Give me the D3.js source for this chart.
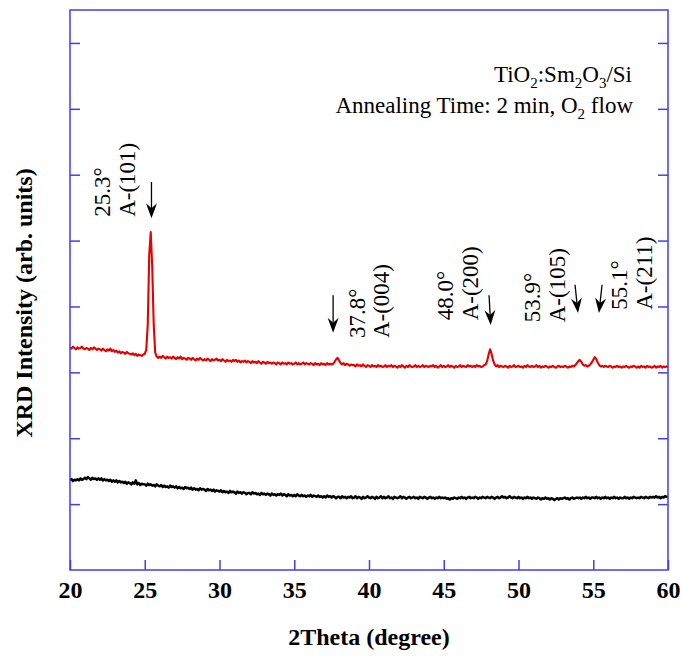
<!DOCTYPE html>
<html>
<head>
<meta charset="utf-8">
<script src="https://cdn.jsdelivr.net/npm/d3@7"></script>
<style>
  html, body { margin: 0; padding: 0; background: #fff; }
  svg { display: block; }
  text { font-family: "Liberation Serif", "Times New Roman", serif; }
</style>
</head>
<body>
<svg id="chart" width="681" height="656"></svg>
<script>
// XRD scan: 2θ from 20° to 60° in 0.1° steps
const scanStart = 20;
const scanStep = 0.1;

// TiO2:Sm2O3/Si, annealed 2 min in O2 flow (offset trace)
const annealedCounts = [
  3.38, 3.36, 3.39, 3.37, 3.35, 3.38, 3.36, 3.37, 3.39, 3.36,
  3.35, 3.37, 3.36, 3.34, 3.37, 3.35, 3.38, 3.36, 3.34, 3.36,
  3.35, 3.33, 3.36, 3.34, 3.32, 3.35, 3.33, 3.36, 3.32, 3.34,
  3.31, 3.33, 3.30, 3.32, 3.29, 3.31, 3.30, 3.28, 3.31, 3.29,
  3.28, 3.27, 3.29, 3.26, 3.28, 3.25, 3.27, 3.26, 3.25, 3.27,
  3.28, 3.34, 3.72, 4.78, 5.13, 4.60, 3.72, 3.30, 3.24, 3.22,
  3.24, 3.22, 3.25, 3.23, 3.21, 3.24, 3.22, 3.23, 3.21, 3.24,
  3.22, 3.20, 3.23, 3.21, 3.24, 3.20, 3.22, 3.21, 3.19, 3.22,
  3.21, 3.19, 3.22, 3.20, 3.18, 3.21, 3.19, 3.22, 3.20, 3.18,
  3.20, 3.18, 3.21, 3.19, 3.17, 3.20, 3.18, 3.19, 3.21, 3.18,
  3.19, 3.17, 3.20, 3.18, 3.16, 3.19, 3.17, 3.18, 3.16, 3.19,
  3.17, 3.19, 3.16, 3.18, 3.15, 3.17, 3.16, 3.18, 3.15, 3.17,
  3.16, 3.14, 3.17, 3.15, 3.16, 3.14, 3.17, 3.15, 3.13, 3.16,
  3.15, 3.13, 3.16, 3.14, 3.15, 3.13, 3.15, 3.14, 3.12, 3.15,
  3.14, 3.12, 3.15, 3.13, 3.14, 3.12, 3.15, 3.13, 3.14, 3.12,
  3.13, 3.15, 3.12, 3.14, 3.12, 3.13, 3.15, 3.12, 3.14, 3.13,
  3.12, 3.14, 3.13, 3.11, 3.14, 3.12, 3.13, 3.11, 3.14, 3.12,
  3.13, 3.11, 3.14, 3.12, 3.13, 3.12, 3.13, 3.16, 3.20, 3.22,
  3.18, 3.14, 3.12, 3.14, 3.11, 3.13, 3.12, 3.10, 3.12, 3.11,
  3.11, 3.09, 3.12, 3.10, 3.11, 3.09, 3.12, 3.10, 3.08, 3.11,
  3.10, 3.08, 3.11, 3.09, 3.10, 3.08, 3.11, 3.09, 3.10, 3.08,
  3.09, 3.11, 3.08, 3.10, 3.09, 3.11, 3.08, 3.10, 3.09, 3.07,
  3.10, 3.08, 3.11, 3.09, 3.07, 3.10, 3.08, 3.11, 3.09, 3.08,
  3.09, 3.11, 3.08, 3.10, 3.08, 3.09, 3.11, 3.08, 3.10, 3.09,
  3.08, 3.10, 3.09, 3.11, 3.08, 3.10, 3.07, 3.09, 3.11, 3.08,
  3.10, 3.08, 3.09, 3.11, 3.08, 3.10, 3.09, 3.07, 3.10, 3.08,
  3.09, 3.11, 3.08, 3.10, 3.09, 3.08, 3.11, 3.09, 3.10, 3.08,
  3.10, 3.08, 3.11, 3.09, 3.10, 3.08, 3.09, 3.11, 3.12, 3.17,
  3.27, 3.35, 3.28, 3.18, 3.12, 3.09, 3.11, 3.08, 3.10, 3.09,
  3.08, 3.10, 3.09, 3.07, 3.10, 3.08, 3.09, 3.11, 3.08, 3.09,
  3.10, 3.08, 3.09, 3.07, 3.10, 3.08, 3.11, 3.09, 3.08, 3.10,
  3.08, 3.09, 3.11, 3.08, 3.10, 3.07, 3.09, 3.08, 3.10, 3.09,
  3.07, 3.09, 3.08, 3.10, 3.08, 3.07, 3.09, 3.10, 3.08, 3.09,
  3.08, 3.10, 3.09, 3.07, 3.09, 3.08, 3.10, 3.09, 3.11, 3.14,
  3.17, 3.19, 3.16, 3.12, 3.10, 3.11, 3.09, 3.10, 3.12, 3.15,
  3.19, 3.23, 3.20, 3.15, 3.11, 3.09, 3.10, 3.08, 3.10, 3.09,
  3.08, 3.10, 3.09, 3.07, 3.09, 3.08, 3.10, 3.08, 3.09, 3.07,
  3.09, 3.08, 3.10, 3.08, 3.07, 3.09, 3.08, 3.10, 3.09, 3.07,
  3.09, 3.07, 3.10, 3.08, 3.09, 3.07, 3.10, 3.08, 3.09, 3.07,
  3.08, 3.10, 3.07, 3.09, 3.08, 3.10, 3.07, 3.09, 3.08, 3.09,
  3.08
];

// Reference trace (lower curve)
const referenceCounts = [
  1.36, 1.38, 1.35, 1.37, 1.36, 1.38, 1.36, 1.39, 1.37, 1.38,
  1.40, 1.38, 1.41, 1.39, 1.37, 1.40, 1.38, 1.39, 1.37, 1.39,
  1.37, 1.39, 1.36, 1.38, 1.36, 1.37, 1.35, 1.37, 1.34, 1.36,
  1.34, 1.36, 1.33, 1.35, 1.33, 1.34, 1.32, 1.34, 1.31, 1.33,
  1.32, 1.30, 1.33, 1.31, 1.36, 1.30, 1.32, 1.29, 1.31, 1.30,
  1.30, 1.28, 1.31, 1.29, 1.30, 1.28, 1.29, 1.27, 1.30, 1.28,
  1.27, 1.29, 1.26, 1.28, 1.26, 1.27, 1.25, 1.28, 1.26, 1.27,
  1.25, 1.27, 1.24, 1.26, 1.24, 1.25, 1.23, 1.26, 1.24, 1.25,
  1.23, 1.25, 1.22, 1.24, 1.22, 1.23, 1.21, 1.24, 1.22, 1.23,
  1.22, 1.20, 1.23, 1.21, 1.22, 1.20, 1.22, 1.19, 1.21, 1.20,
  1.19, 1.21, 1.18, 1.20, 1.18, 1.19, 1.17, 1.20, 1.18, 1.19,
  1.18, 1.16, 1.19, 1.17, 1.18, 1.16, 1.18, 1.17, 1.15, 1.17,
  1.17, 1.15, 1.18, 1.16, 1.17, 1.15, 1.16, 1.14, 1.17, 1.15,
  1.16, 1.14, 1.16, 1.15, 1.13, 1.16, 1.14, 1.15, 1.13, 1.15,
  1.14, 1.16, 1.13, 1.15, 1.14, 1.12, 1.15, 1.13, 1.14, 1.12,
  1.14, 1.12, 1.15, 1.13, 1.12, 1.14, 1.12, 1.13, 1.11, 1.13,
  1.12, 1.14, 1.11, 1.13, 1.12, 1.11, 1.13, 1.11, 1.12, 1.10,
  1.12, 1.10, 1.13, 1.11, 1.12, 1.10, 1.12, 1.11, 1.09, 1.11,
  1.11, 1.09, 1.12, 1.10, 1.11, 1.09, 1.11, 1.10, 1.12, 1.09,
  1.10, 1.12, 1.09, 1.11, 1.10, 1.08, 1.11, 1.09, 1.10, 1.12,
  1.10, 1.09, 1.11, 1.10, 1.08, 1.11, 1.09, 1.10, 1.12, 1.09,
  1.11, 1.09, 1.10, 1.12, 1.09, 1.10, 1.08, 1.11, 1.10, 1.09,
  1.10, 1.12, 1.09, 1.11, 1.10, 1.08, 1.10, 1.11, 1.09, 1.10,
  1.11, 1.09, 1.10, 1.08, 1.11, 1.10, 1.09, 1.11, 1.10, 1.08,
  1.10, 1.11, 1.09, 1.10, 1.08, 1.10, 1.09, 1.11, 1.09, 1.10,
  1.09, 1.10, 1.08, 1.09, 1.07, 1.09, 1.08, 1.10, 1.09, 1.08,
  1.10, 1.09, 1.11, 1.09, 1.10, 1.08, 1.10, 1.11, 1.09, 1.10,
  1.09, 1.11, 1.10, 1.08, 1.10, 1.09, 1.11, 1.10, 1.09, 1.11,
  1.10, 1.09, 1.11, 1.10, 1.08, 1.10, 1.11, 1.09, 1.10, 1.12,
  1.10, 1.11, 1.09, 1.10, 1.12, 1.10, 1.09, 1.11, 1.10, 1.09,
  1.11, 1.09, 1.10, 1.08, 1.10, 1.09, 1.11, 1.09, 1.10, 1.08,
  1.10, 1.09, 1.08, 1.10, 1.09, 1.07, 1.09, 1.08, 1.10, 1.08,
  1.09, 1.07, 1.09, 1.08, 1.06, 1.08, 1.09, 1.07, 1.09, 1.08,
  1.09, 1.10, 1.08, 1.09, 1.07, 1.09, 1.10, 1.08, 1.09, 1.10,
  1.09, 1.10, 1.08, 1.10, 1.09, 1.11, 1.09, 1.10, 1.08, 1.10,
  1.10, 1.09, 1.11, 1.09, 1.10, 1.08, 1.10, 1.09, 1.11, 1.09,
  1.10, 1.08, 1.10, 1.09, 1.11, 1.09, 1.10, 1.08, 1.10, 1.09,
  1.09, 1.11, 1.09, 1.10, 1.08, 1.10, 1.09, 1.11, 1.10, 1.09,
  1.10, 1.09, 1.11, 1.10, 1.09, 1.11, 1.10, 1.09, 1.11, 1.10,
  1.11, 1.10, 1.12, 1.10, 1.11, 1.09, 1.11, 1.10, 1.12, 1.11,
  1.11
];

// Axis ticks
const xTicks = [20, 25, 30, 35, 40, 45, 50, 55, 60];
const yTicks = [1, 2, 3, 4, 5, 6, 7, 8];

// Anatase reflections marked on the annealed trace
const peakAngles = ["25.3°", "37.8°", "48.0°", "53.9°", "55.1°"];
const peakPlanes = ["A-(101)", "A-(004)", "A-(200)", "A-(105)", "A-(211)"];

// Label anchors (2θ, intensity) and arrows (from -> to) in data units
const labelAnchors = [[22.68, 5.36], [39.73, 3.52], [45.62, 3.79], [51.44, 3.76], [57.26, 3.95]];
const arrowPaths = [
  [[25.45, 5.89], [25.45, 5.34]],
  [[37.60, 4.17], [37.60, 3.60]],
  [[48.03, 4.17], [48.14, 3.72]],
  [[53.78, 4.33], [53.98, 3.90]],
  [[55.59, 4.33], [55.38, 3.90]]
];

const frame = { left: 70, right: 668, top: 10, bottom: 570 };
const axisBlue = "#3f3ff0";
const serif = "'Liberation Serif', 'Times New Roman', serif";

const svg = d3.select("#chart");
svg.append("rect").attr("width", 681).attr("height", 656).attr("fill", "#fff");

const x = d3.scaleLinear().domain([20, 60]).range([frame.left, frame.right]);
const y = d3.scaleLinear().domain([0, 8.5]).range([frame.bottom, frame.top]);

const toPoints = counts => counts.map((v, i) => [scanStart + i * scanStep, v]);
const line = d3.line().x(d => x(d[0])).y(d => y(d[1]));

const plot = svg.append("g");
plot.append("path")
  .datum(toPoints(referenceCounts))
  .attr("d", line)
  .attr("fill", "none")
  .attr("stroke", "#000")
  .attr("stroke-width", 2.5)
  .attr("stroke-linejoin", "round");

plot.append("path")
  .datum(toPoints(annealedCounts))
  .attr("d", line)
  .attr("fill", "none")
  .attr("stroke", "#e60000")
  .attr("stroke-width", 2.1)
  .attr("stroke-linejoin", "round");

// Axes: inward ticks, blue frame
const xAxis = svg.append("g")
  .attr("transform", `translate(0,${frame.bottom})`)
  .call(d3.axisBottom(x).tickValues(xTicks).tickSizeInner(-10).tickSizeOuter(0).tickFormat(d3.format("d")));
const yLeft = svg.append("g")
  .attr("transform", `translate(${frame.left},0)`)
  .call(d3.axisLeft(y).tickValues(yTicks).tickSizeInner(-10).tickSizeOuter(0).tickFormat(""));
const yRight = svg.append("g")
  .attr("transform", `translate(${frame.right},0)`)
  .call(d3.axisRight(y).tickValues(yTicks).tickSizeInner(-10).tickSizeOuter(0).tickFormat(""));

[xAxis, yLeft, yRight].forEach(g => {
  g.attr("font-family", null);
  g.select(".domain").remove();
  g.selectAll(".tick line").attr("stroke", axisBlue).attr("stroke-width", 1.5);
});
yLeft.selectAll(".tick text").remove();
yRight.selectAll(".tick text").remove();
xAxis.selectAll(".tick text")
  .attr("y", 28).attr("dy", 0)
  .attr("fill", "#000")
  .style("font-family", serif)
  .style("font-size", "24px")
  .style("font-weight", "bold");

svg.append("rect")
  .attr("x", frame.left).attr("y", frame.top)
  .attr("width", frame.right - frame.left).attr("height", frame.bottom - frame.top)
  .attr("fill", "none").attr("stroke", axisBlue).attr("stroke-width", 1.5);

// Axis titles
svg.append("text")
  .attr("x", (frame.left + frame.right) / 2).attr("y", 645)
  .attr("text-anchor", "middle")
  .style("font-family", serif)
  .style("font-size", "24px").style("font-weight", "bold")
  .text("2Theta (degree)");

svg.append("text")
  .attr("transform", "translate(32,303) rotate(-90)")
  .attr("text-anchor", "middle")
  .style("font-family", serif)
  .style("font-size", "24px").style("font-weight", "bold")
  .text("XRD Intensity (arb. units)");

// Sample description, with chemical subscripts
function richText(t, parts) {
  let shift = 0;
  parts.forEach(p => {
    if (typeof p === "string") {
      t.append("tspan").attr("dy", -shift).text(p);
      shift = 0;
    } else {
      t.append("tspan").attr("dy", 6 - shift).style("font-size", "15px").text(p.sub);
      shift = 6;
    }
  });
}
const note1 = svg.append("text").attr("x", 632).attr("y", 82)
  .attr("text-anchor", "end").style("font-family", serif).style("font-size", "23px");
richText(note1, ["TiO", { sub: "2" }, ":Sm", { sub: "2" }, "O", { sub: "3" }, "/Si"]);
const note2 = svg.append("text").attr("x", 633).attr("y", 113)
  .attr("text-anchor", "end").style("font-family", serif).style("font-size", "23px");
richText(note2, ["Annealing Time: 2 min, O", { sub: "2" }, " flow"]);

// Peak labels (two rotated lines each)
peakAngles.forEach((ang, i) => {
  const [a, v] = labelAnchors[i];
  const bx = x(a), by = y(v);
  [ang, peakPlanes[i]].forEach((s, j) => {
    svg.append("text")
      .attr("transform", `translate(${bx + j * 24.5},${by}) rotate(-90)`)
      .attr("text-anchor", "start")
      .style("font-family", serif)
      .style("font-size", "23px")
      .text(s);
  });
});

// Arrows pointing at each reflection
arrowPaths.forEach(([from, to]) => {
  const x0 = x(from[0]), y0 = y(from[1]), x1 = x(to[0]), y1 = y(to[1]);
  const len = Math.hypot(x1 - x0, y1 - y0);
  const ux = (x1 - x0) / len, uy = (y1 - y0) / len;
  const px = -uy, py = ux;
  const headLen = 15, headW = 5.5, notch = 10;
  svg.append("line")
    .attr("x1", x0).attr("y1", y0)
    .attr("x2", x1 - ux * notch).attr("y2", y1 - uy * notch)
    .attr("stroke", "#000").attr("stroke-width", 1.3);
  const pts = [
    [x1, y1],
    [x1 - ux * headLen + px * headW, y1 - uy * headLen + py * headW],
    [x1 - ux * notch, y1 - uy * notch],
    [x1 - ux * headLen - px * headW, y1 - uy * headLen - py * headW]
  ];
  svg.append("path")
    .attr("d", "M" + pts.map(p => p.join(",")).join("L") + "Z")
    .attr("fill", "#000");
});
</script>
</body>
</html>
